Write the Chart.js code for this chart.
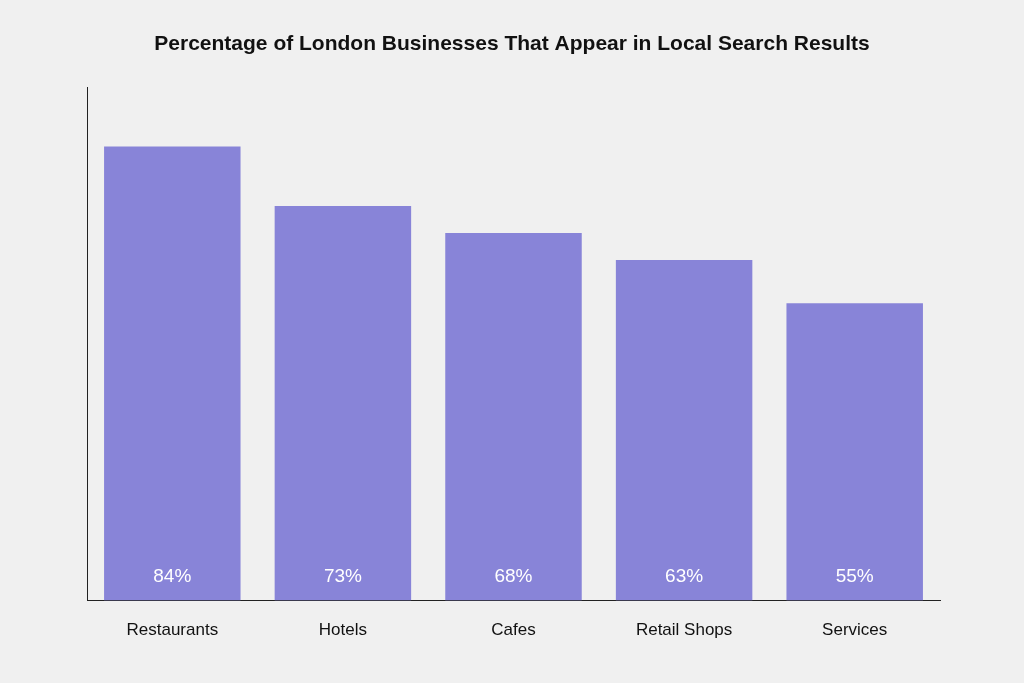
<!DOCTYPE html>
<html>
<head>
<meta charset="utf-8">
<script src="https://cdn.jsdelivr.net/npm/chart.js@4"></script>
<style>
  html, body { margin: 0; padding: 0; background: #f0f0f0; }
  #wrap { width: 1024px; height: 683px; }
</style>
</head>
<body>
<div id="wrap"><canvas id="c" width="1024" height="683"></canvas></div>
<script>
const categories = ['Restaurants', 'Hotels', 'Cafes', 'Retail Shops', 'Services'];
const percentages = [84, 73, 68, 63, 55];
const chartTitle = 'Percentage of London Businesses That Appear in Local Search Results';

// title centred on the canvas, plus white value labels near the bar bottoms
const overlays = {
  id: 'overlays',
  afterDatasetsDraw(chart) {
    const ctx = chart.ctx;
    const meta = chart.getDatasetMeta(0);
    ctx.save();
    ctx.fillStyle = '#111111';
    ctx.font = 'bold 21px "Liberation Sans", Arial, sans-serif';
    ctx.textAlign = 'center';
    ctx.textBaseline = 'middle';
    ctx.fillText(chartTitle, chart.width / 2, 44);
    ctx.fillStyle = '#ffffff';
    ctx.font = '19px "Liberation Sans", Arial, sans-serif';
    meta.data.forEach((bar, i) => {
      ctx.fillText(percentages[i] + '%', bar.x, bar.base - 24);
    });
    ctx.restore();
  }
};

new Chart(document.getElementById('c'), {
  type: 'bar',
  data: {
    labels: categories,
    datasets: [{
      data: percentages,
      backgroundColor: '#8884d8',
      categoryPercentage: 0.8,
      barPercentage: 1.0
    }]
  },
  options: {
    responsive: false,
    animation: false,
    layout: { padding: { left: 79, right: 84, top: 87, bottom: 30 } },
    plugins: {
      legend: { display: false },
      tooltip: { enabled: false },
      title: { display: false }
    },
    scales: {
      x: {
        grid: { display: false },
        border: { color: '#222222', width: 1 },
        ticks: { color: '#111111', padding: 12, font: { family: '"Liberation Sans", Arial, sans-serif', size: 17 } }
      },
      y: {
        min: 0,
        max: 95,
        grid: { display: false },
        border: { color: '#222222', width: 1 },
        ticks: { display: false }
      }
    }
  },
  plugins: [overlays]
});
</script>
</body>
</html>
